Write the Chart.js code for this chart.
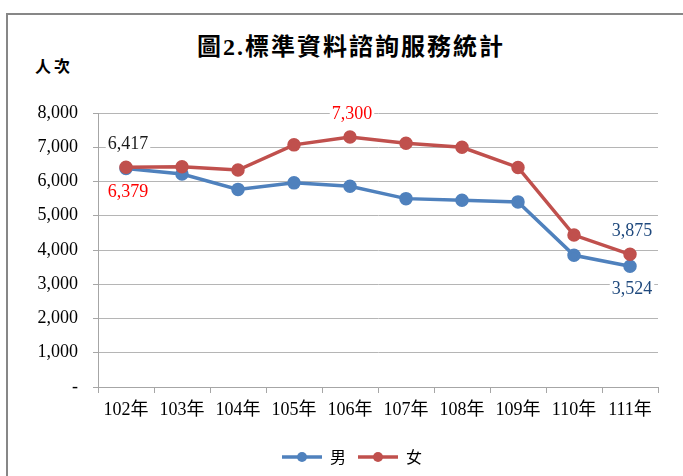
<!DOCTYPE html>
<html>
<head>
<meta charset="utf-8">
<script src="https://cdn.jsdelivr.net/npm/chart.js@4/dist/chart.umd.min.js"></script>
<style>
  html, body { margin: 0; padding: 0; background: #fff; overflow: hidden; }
  #wrap { position: relative; width: 683px; height: 476px; overflow: hidden; }
  #frame { position: absolute; left: 6px; top: 13px; width: 800px; height: 600px; border: 2px solid #878787; }
  #title { position: absolute; left: 197px; top: 35px; font: bold 24px/24px 'Liberation Serif', 'Noto Sans CJK TC', serif; letter-spacing: 2px; color: #000; white-space: nowrap; }
  #unit { position: absolute; left: 35px; top: 57px; font: bold 16px/16px 'Noto Sans CJK TC', serif; letter-spacing: 3px; color: #000; white-space: nowrap; }
  canvas { position: absolute; left: 0; top: 0; }
</style>
</head>
<body>
<div id="wrap">
  <div id="frame"></div>
  <div id="title">圖2.標準資料諮詢服務統計</div>
  <div id="unit">人次</div>
  <canvas id="c" width="683" height="476"></canvas>
</div>
<script>
const categories = ['102年','103年','104年','105年','106年','107年','108年','109年','110年','111年'];
const maleValues = [6379, 6220, 5770, 5960, 5860, 5500, 5455, 5405, 3845, 3524];
const femaleValues = [6417, 6430, 6335, 7070, 7300, 7115, 7000, 6410, 4435, 3875];
const yTicks = [0, 1000, 2000, 3000, 4000, 5000, 6000, 7000, 8000];
const seriesNames = ['男', '女'];

const BLUE = '#4F81BD';
const RED = '#C0504D';

// value labels: dataset index, point index, colour, vertical offset
const valueLabels = [
  { ds: 1, i: 0, color: '#1a1a1a', dy: -23 },
  { ds: 0, i: 0, color: '#FF0000', dy: 24 },
  { ds: 1, i: 4, color: '#FF0000', dy: -23 },
  { ds: 1, i: 9, color: '#1F497D', dy: -23 },
  { ds: 0, i: 9, color: '#1F497D', dy: 23 }
];

const fmt = v => v === 0 ? '-' : v.toLocaleString('en-US');

function legendIcon(color) {
  const c = document.createElement('canvas');
  c.width = 40; c.height = 12;
  const x = c.getContext('2d');
  x.strokeStyle = color; x.lineWidth = 3.5;
  x.beginPath(); x.moveTo(0, 6); x.lineTo(40, 6); x.stroke();
  x.fillStyle = color;
  x.beginPath(); x.arc(20, 6, 5, 0, Math.PI * 2); x.fill();
  return c;
}
const icons = [legendIcon(BLUE), legendIcon(RED)];

const labelPlugin = {
  id: 'valueLabels',
  afterDatasetsDraw(chart) {
    const ctx = chart.ctx;
    ctx.save();
    ctx.font = "18px 'Liberation Serif', serif";
    ctx.textAlign = 'center';
    ctx.textBaseline = 'middle';
    valueLabels.forEach(l => {
      const pt = chart.getDatasetMeta(l.ds).data[l.i];
      const v = chart.data.datasets[l.ds].data[l.i];
      const t = fmt(v);
      const w = ctx.measureText(t).width;
      const x = pt.x + 2, y = pt.y + l.dy;
      ctx.fillStyle = '#fff';
      ctx.fillRect(x - w / 2 - 2, y - 9, w + 4, 18);
      ctx.fillStyle = l.color;
      ctx.fillText(t, x, y);
    });
    ctx.restore();
  }
};

const legendShift = {
  id: 'legendShift',
  afterLayout(chart) {
    if (chart.legend) { chart.legend.left += 23; chart.legend.right += 23; }
  }
};

Chart.defaults.font.family = "'Liberation Serif', 'Noto Sans CJK TC', serif";
Chart.defaults.color = '#000';

new Chart(document.getElementById('c'), {
  type: 'line',
  data: {
    labels: categories,
    datasets: [
      { label: seriesNames[0], data: maleValues, borderColor: BLUE, backgroundColor: BLUE,
        pointBackgroundColor: BLUE, pointBorderColor: BLUE, borderWidth: 3.5, pointRadius: 5, order: 1 },
      { label: seriesNames[1], data: femaleValues, borderColor: RED, backgroundColor: RED,
        pointBackgroundColor: RED, pointBorderColor: RED, borderWidth: 3.5, pointRadius: 5, order: 0 }
    ]
  },
  options: {
    responsive: false,
    animation: false,
    devicePixelRatio: 1,
    layout: { padding: { left: 0, right: 25, top: 113, bottom: 1 } },
    plugins: {
      tooltip: { enabled: false },
      title: { display: false },
      legend: {
        position: 'bottom',
        labels: {
          usePointStyle: true,
          pointStyleWidth: 40,
          boxHeight: 12,
          padding: 12,
          font: { size: 16, family: "'Noto Sans CJK TC', serif" },
          color: '#000',
          sort: (a, b) => a.datasetIndex - b.datasetIndex,
          generateLabels(chart) {
            const items = Chart.defaults.plugins.legend.labels.generateLabels(chart);
            items.forEach(it => { it.pointStyle = icons[it.datasetIndex]; });
            return items;
          }
        }
      }
    },
    scales: {
      x: {
        offset: true,
        grid: { offset: true, drawOnChartArea: false, drawTicks: true, tickLength: 6, color: '#A6A6A6' },
        border: { color: '#A6A6A6', width: 1 },
        ticks: { font: { size: 18 }, padding: 6, maxRotation: 0, autoSkip: false, color: '#000' },
        afterFit(scale) { scale.height = 50; }
      },
      y: {
        min: 0, max: 8000,
        afterBuildTicks(scale) { scale.ticks = yTicks.map(v => ({ value: v })); },
        grid: { color: '#B5B5B5', borderDash: [4, 3], tickLength: 5, tickColor: '#A6A6A6', tickBorderDash: [] },
        border: { color: '#A6A6A6', width: 1 },
        ticks: { font: { size: 18 }, padding: 15, color: '#000', callback: v => fmt(v) },
        afterFit(scale) { scale.width = 98; }
      }
    }
  },
  plugins: [labelPlugin, legendShift]
});
</script>
</body>
</html>
